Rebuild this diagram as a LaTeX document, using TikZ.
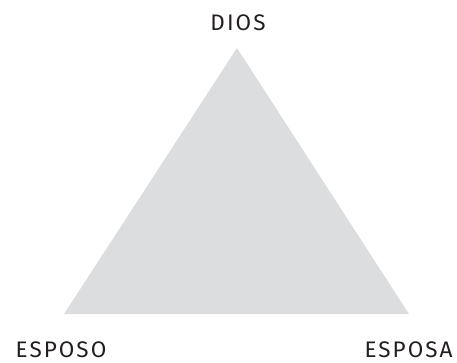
\documentclass[tikz,border=0pt]{standalone}
\usepackage{fontspec}
\setmainfont{Fira Sans}[LetterSpace=9]
\definecolor{tri}{RGB}{220,221,222}
\definecolor{ink}{RGB}{35,31,32}
\begin{document}
\begin{tikzpicture}[x=1pt,y=-1pt,
  lbl/.style={inner sep=0pt,text=ink,font=\fontsize{22.5}{22.5}\selectfont,anchor=base}]
\useasboundingbox (0,0) rectangle (457,363);
\coordinate (top) at (237,48);
\coordinate (bl) at (64,314);
\coordinate (br) at (409,314);
\fill[tri] (top) -- (bl) -- (br) -- cycle;
\node[lbl] (dios) at (238,30.5) {DIOS};
\node[lbl] (esposo) at (61,357.5) {ESPOSO};
\node[lbl] (esposa) at (408.5,357.5) {ESPOSA};
\end{tikzpicture}
\end{document}
